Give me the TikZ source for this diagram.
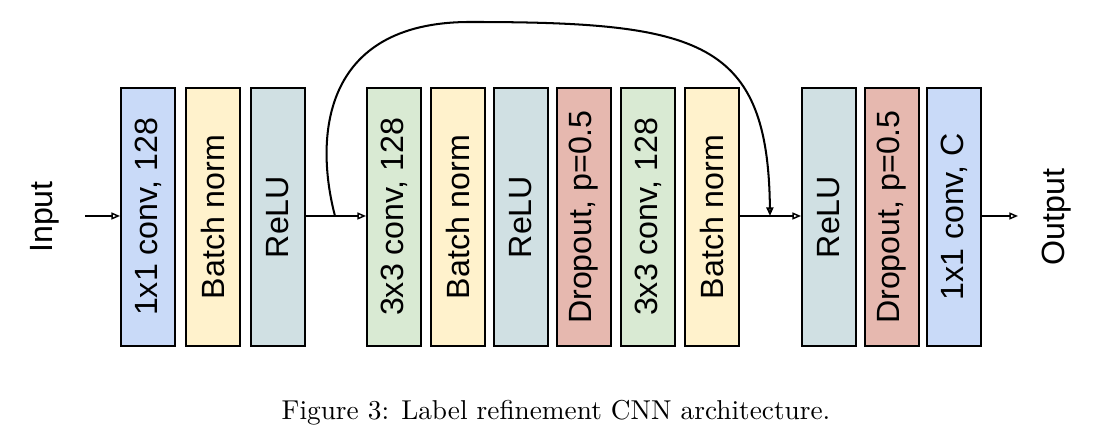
\documentclass[tikz,border=0pt]{standalone}
\usepackage{fontspec}
\newfontfamily\arial{Liberation Sans}
\usetikzlibrary{arrows.meta}
\definecolor{cblue}{HTML}{C9DAF8}
\definecolor{cyellow}{HTML}{FFF2CC}
\definecolor{cgray}{HTML}{D0E0E3}
\definecolor{cgreen}{HTML}{D9EAD3}
\definecolor{cred}{HTML}{E6B8AF}
\tikzset{
  layer/.style={draw=black, line width=0.7pt, minimum width=20pt, minimum height=95.5pt,
    inner sep=0pt, font=\arial\fontsize{11.9}{14}\selectfont},
  lbl/.style={font=\arial\fontsize{11.9}{14}\selectfont, rotate=90, inner sep=0pt},
  conn/.style={line width=0.55pt, -{Triangle[open, length=3.2pt, width=2.6pt]}},
}
\begin{document}
\begin{tikzpicture}[x=0.37pt, y=-0.37pt]
\useasboundingbox (0,0) rectangle (1110,437);
\node[lbl] (in) at (45,217) {Input};
\node[layer, fill=cblue]   (b1)  at (148,217) {\rotatebox{90}{1x1 conv, 128}};
\node[layer, fill=cyellow] (b2)  at (213,217) {\rotatebox{90}{Batch norm}};
\node[layer, fill=cgray]   (b3)  at (278,217) {\rotatebox{90}{ReLU}};
\node[layer, fill=cgreen]  (b4)  at (394,217) {\rotatebox{90}{3x3 conv, 128}};
\node[layer, fill=cyellow] (b5)  at (458,217) {\rotatebox{90}{Batch norm}};
\node[layer, fill=cgray]   (b6)  at (521,217) {\rotatebox{90}{ReLU}};
\node[layer, fill=cred]    (b7)  at (584,217) {\rotatebox{90}{Dropout, p=0.5}};
\node[layer, fill=cgreen]  (b8)  at (648,217) {\rotatebox{90}{3x3 conv, 128}};
\node[layer, fill=cyellow] (b9)  at (712,217) {\rotatebox{90}{Batch norm}};
\node[layer, fill=cgray]   (b10) at (829,217) {\rotatebox{90}{ReLU}};
\node[layer, fill=cred]    (b11) at (892,217) {\rotatebox{90}{Dropout, p=0.5}};
\node[layer, fill=cblue]   (b12) at (954,217) {\rotatebox{90}{1x1 conv, C}};
\node[lbl] (out) at (1057,217) {Output};
\coordinate (inS) at (85,216);
\coordinate (outE) at (1018,216);
\coordinate (sk1) at (335,216);
\coordinate (sk2) at (770,216);
\draw[conn] (inS) -- (b1.west |- inS);
\draw[conn] (b3.east |- inS) -- (b4.west |- inS);
\draw[conn] (b9.east |- inS) -- (b10.west |- inS);
\draw[conn] (b12.east |- inS) -- (outE);
\draw[line width=0.75pt, -{Triangle[open, length=3.2pt, width=2.6pt]}]
  (sk1) .. controls (315,140) and (320,22) .. (470,22)
        .. controls (700,22) and (768,40) .. (sk2);
\node[font=\fontsize{10.1}{12}\selectfont] (cap) at (556,413) {Figure 3: Label refinement CNN architecture.};
\end{tikzpicture}
\end{document}
